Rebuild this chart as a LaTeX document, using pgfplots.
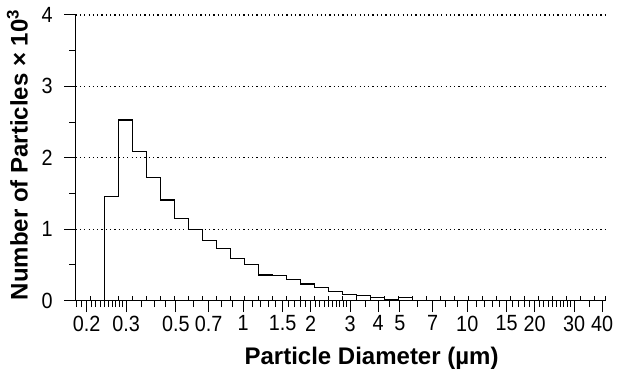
\documentclass[border=0pt]{standalone}
\usepackage{pgfplots}
\pgfplotsset{compat=1.18}
\usepackage{fontspec}
\setmainfont{Liberation Sans}
\newfontfamily\tickfont[FakeStretch=0.9]{Liberation Sans}
\begin{document}
\begin{tikzpicture}
\begin{axis}[
  scale only axis,
  width=529.3pt, height=285.7pt,
  at={(0pt,0pt)}, anchor=south west,
  xmode=log,
  xmin=0.1787, xmax=41.2,
  ymin=0, ymax=4,
  axis x line*=bottom, axis y line*=left,
  axis line style={line width=1.1pt, black},
  xtick={0.2,0.3,0.5,0.7,1,1.5,2,3,4,5,7,10,15,20,30,40},
  xticklabels={0.2,0.3,0.5,0.7,1,1.5,2,3,4,5,7,10,15,20,30,40},
  minor xtick={0.18,0.19,0.21,0.22,0.23,0.24,0.25,0.26,0.27,0.28,0.29,0.35,0.4,0.45,0.6,0.8,0.9,1.1,1.2,1.3,1.4,1.6,1.7,1.8,1.9,2.1,2.2,2.3,2.4,2.5,2.6,2.7,2.8,2.9,3.5,4.5,6,8,9,11,12,13,14,16,17,18,19,21,22,23,24,25,26,27,28,29,35},
  extra x ticks={0.2075,0.2396,0.2767,0.3195,0.3690,0.4261,0.4920,0.5682,0.6561,0.7577,0.8750,1.0104,1.1668,1.3474,1.5560,1.7968,2.0749,2.3961,2.7669,3.1952,3.6898,4.2610,4.9204,5.6819,6.5615,7.5773,8.7498,10.104,11.668,13.474,15.560,17.968,20.749,23.961,27.669,31.952,36.898,41.2},
  extra x tick labels={},
  extra x tick style={tick align=inside, major tick length=5pt},
  ytick={0,1,2,3,4},
  yticklabels={0,1,2,3,4},
  minor ytick={0.5,1.5,2.5,3.5},
  tick align=outside,
  major tick length=11.5pt,
  minor tick length=6.5pt,
  tick style={line width=1pt, black},
  ymajorgrids,
  grid style={black, line width=1.1pt, dash pattern=on 1.2pt off 3.1pt},
  tick label style={font=\tickfont\fontsize{22}{26}\selectfont},
  xticklabel style={yshift=0pt},
  yticklabel style={xshift=-8pt},
  xlabel={Particle Diameter (µm)},
  ylabel={Number of Particles × 10\textsuperscript{3}},
  label style={font=\fontsize{24}{28}\selectfont\bfseries},
  x label style={at={(axis description cs:0.559,-0.2)}, anchor=center},
  y label style={at={(axis description cs:-0.11,0.51)}, anchor=center},
]
\addplot[const plot mark left, black, line width=1.2pt, mark=none] coordinates {
(0.2396,0) (0.2396,1.46) (0.2767,2.53) (0.3195,2.09) (0.3690,1.72) (0.4261,1.41)
(0.4920,1.15) (0.5682,1.00) (0.6561,0.84) (0.7577,0.73) (0.8750,0.59) (1.0104,0.51)
(1.1668,0.36) (1.3474,0.35) (1.5560,0.30) (1.7968,0.235) (2.0749,0.187) (2.3961,0.13)
(2.7669,0.085) (3.1952,0.075) (3.6898,0.05) (4.2610,0.02) (4.9204,0.045) (5.6819,0.005)
(6.5615,0)
};
\end{axis}
\pgfresetboundingbox
\path[use as bounding box] (-75.7pt,-71.3pt) rectangle (541.3pt,300.7pt);
\end{tikzpicture}
\end{document}
